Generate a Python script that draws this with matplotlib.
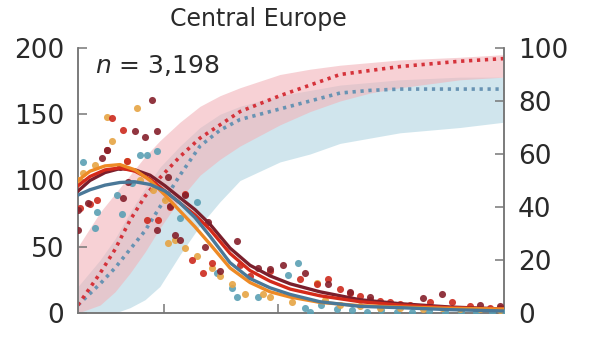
import numpy as np
import matplotlib.pyplot as plt

plt.rcParams['font.family'] = ['DejaVu Sans']

# cumulative share (right axis, %), sampled along the time axis
cum_x = [1.76, 2.75, 3.72, 5.03, 6.81, 9.2, 13.8, 20.7, 31.0, 46.4, 104, 191, 350, 641, 1175, 3950, 9600]
red_cum = [3, 15, 24, 35, 44, 51, 59, 66, 71, 76, 82, 86, 90, 91.5, 93, 95, 96]
red_lo = [0, 3, 8, 15, 23, 32, 43, 52, 58, 63, 71, 76, 80, 83, 85, 88, 89]
red_hi = [25, 38, 45, 52, 59, 65, 72, 78, 82, 85, 90, 92, 93.5, 94.5, 95.5, 96.5, 97.5]
blue_cum = [3, 11, 17, 24, 31, 40, 52, 63, 69, 73, 77, 80, 83, 84, 84.5, 84.5, 84.5]
blue_lo = [0, 0, 0, 2, 5, 10, 22, 33, 42, 50, 57, 60, 64, 66, 68, 70, 72]
blue_hi = [10, 20, 28, 38, 47, 55, 63, 70, 75, 78, 82, 84, 86, 87, 88, 89, 89]

# fitted curves (left axis)
fit_x = [1.76, 2.24, 3.04, 4.11, 5.57, 7.54, 10.2, 13.8, 18.7, 25.3, 37.9, 56.8, 85.1, 128,
         233, 524, 1175, 3230, 9600]
fit_darkred = [92, 100, 106, 109, 108, 104, 96, 87, 78, 67, 49, 36, 28, 22, 16, 10, 7, 4.5, 3]
fit_red = [96, 103, 108, 109.5, 107, 101, 92, 83, 74, 63, 45, 32, 24, 18, 13, 8.5, 6, 4, 3]
fit_orange = [100, 107, 111, 112, 108, 100, 89, 77, 65, 52, 34, 23, 16, 12, 8, 5.5, 4.5, 3.5, 3]
fit_blue = [89, 93, 96.5, 98.5, 99, 97, 92, 83, 72, 58, 38, 26, 19, 14, 8.5, 5, 4, 2.5, 1.5]

# observed points (left axis)
darkred_x = [1.76, 1.76, 2.15, 2.86, 3.16, 4.11, 4.37, 4.83, 5.57, 6.81, 7.85, 8.69, 8.69, 10.8,
             11.3, 12.5, 13.8, 15.3, 22.9, 24.3, 31.0, 43.7, 66.8, 85.1, 111, 173, 275, 428,
             641, 1871, 2748, 5910, 8850]
darkred_y = [78, 63, 83, 117, 123, 110, 87, 99, 137, 133, 161, 137, 63, 103, 81, 59, 55, 89,
             50, 69, 32, 54, 34, 33, 36, 30, 22, 16, 12, 11, 14, 6, 5]
red_x = [1.83, 2.24, 2.58, 3.16, 3.50, 4.37, 4.73, 7.09, 8.86, 11.3, 15.3, 17.6, 22.0, 26.4,
         46.4, 56.8, 85.1, 156, 220, 275, 350, 428, 524, 641, 785, 960, 1175, 1438, 2155,
         3360, 4830, 7240, 8850]
red_y = [79, 82, 85, 123, 147, 138, 115, 70, 70, 80, 90, 40, 30, 38, 36, 28, 32, 26, 22, 26,
         18, 15, 13, 10, 9, 8, 7, 6, 8, 8, 5, 4, 4]
orange_x = [1.80, 1.95, 2.48, 3.16, 3.50, 4.73, 5.80, 6.16, 8.0, 10.2, 10.8, 12.5, 15.3, 19.5,
            26.4, 31.0, 39.5, 51.4, 73.8, 85.1, 133, 220, 260, 350, 524, 785, 1175, 1871,
            2748, 3950, 5910, 8850]
orange_y = [100, 106, 112, 148, 130, 115, 155, 100, 93, 85, 53, 55, 49, 43, 34, 28, 22, 14, 14,
            12, 8, 23, 10, 6, 5, 4, 4, 3, 4, 3, 3, 2.5]
teal_x = [1.95, 2.58, 2.48, 3.87, 4.28, 5.24, 6.16, 7.09, 8.69, 13.8, 19.5, 29.2, 39.5, 43.7,
          66.8, 122, 150, 173, 191, 240, 330, 450, 600, 800, 1100, 1500, 2100, 2900, 4000,
          5500, 7500, 9200]
teal_y = [114, 76, 64, 89, 75, 98, 119, 119, 122, 72, 84, 30, 19, 12, 12, 29, 38, 4, 1, 6, 3,
          2, 1, 2, 1, 0.5, 1.5, 1, 0.5, 1, 1, 0.5]

fig = plt.figure(figsize=(6, 3.38), dpi=100)
ax = fig.add_axes([0.13, 0.074, 0.71, 0.784])
ax2 = ax.twinx()
ax.set_zorder(ax2.get_zorder() + 1)
ax.patch.set_visible(False)

# cumulative bands and dotted medians
ax2.fill_between(cum_x, blue_lo, blue_hi, color='#bcdbe6', alpha=0.7, lw=0)
ax2.fill_between(cum_x, red_lo, red_hi, color='#f2b3b9', alpha=0.6, lw=0)
ax2.plot(cum_x, blue_cum, color='#6893b3', lw=2.6, linestyle=(0, (0.9, 1.3)))
ax2.plot(cum_x, red_cum, color='#d5323a', lw=2.6, linestyle=(0, (0.9, 1.3)))

# observations
ax.scatter(teal_x, teal_y, s=26, color='#5ba0b4', alpha=0.9, lw=0, zorder=3)
ax.scatter(orange_x, orange_y, s=26, color='#e6a444', alpha=0.9, lw=0, zorder=3)
ax.scatter(red_x, red_y, s=26, color='#cc2a1e', alpha=0.9, lw=0, zorder=3)
ax.scatter(darkred_x, darkred_y, s=26, color='#85202b', alpha=0.9, lw=0, zorder=3)

# fitted curves
ax.plot(fit_x, fit_darkred, color='#7a1f2c', lw=2.4, zorder=4)
ax.plot(fit_x, fit_red, color='#d42a1a', lw=2.4, zorder=4)
ax.plot(fit_x, fit_orange, color='#ee8a25', lw=2.4, zorder=4)
ax.plot(fit_x, fit_blue, color='#4a7898', lw=2.4, zorder=4)

for a in (ax, ax2):
    a.set_xscale('log')
    a.set_xlim(1.76, 9600)
    for s in ('left', 'right', 'bottom'):
        a.spines[s].set_color('#777777')
        a.spines[s].set_linewidth(1.1)
    a.spines['top'].set_visible(False)
    a.tick_params(direction='in', length=6.5, width=1.1, color='#777777',
                  labelsize=19, labelcolor='#2a2a2a', pad=10)

ax.set_xticks([10, 100])
ax.set_xticklabels([])
ax.xaxis.set_minor_locator(plt.NullLocator())
ax2.xaxis.set_minor_locator(plt.NullLocator())

ax.set_ylim(0, 200)
ax.set_yticks([0, 50, 100, 150, 200])
ax2.set_ylim(0, 100)
ax2.set_yticks([0, 20, 40, 60, 80, 100])

ax.text(0.04, 0.935, '$n$ = 3,198', transform=ax.transAxes, fontsize=18,
        color='#2a2a2a', va='center', ha='left')
fig.text(0.43, 0.945, 'Central Europe', fontsize=17, color='#2a2a2a',
         ha='center', va='center')

fig.savefig('out.png', dpi=100)
